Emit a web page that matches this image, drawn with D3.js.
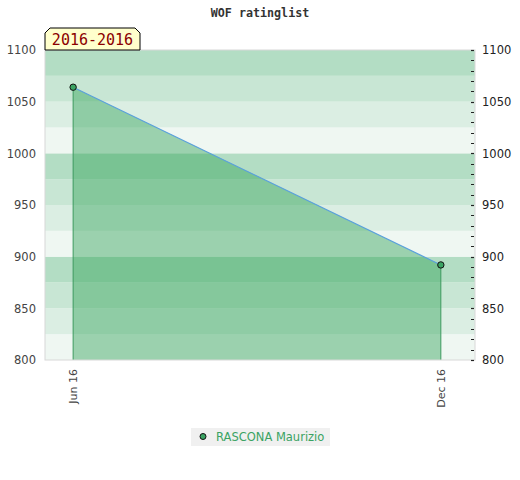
<!DOCTYPE html>
<html>
<head>
<meta charset="utf-8">
<script src="https://cdn.jsdelivr.net/npm/d3@7"></script>
<style>
  body { margin: 0; background: #fff; }
  svg { display: block; }
</style>
</head>
<body>
<svg id="chart" width="520" height="480"></svg>
<script>
// data
var dates = ["2016-06-01", "2016-12-01"];
var ratings = [1064, 892];
var tickLabels = ["Jun 16", "Dec 16"];
var playerName = "RASCONA Maurizio";
var periodLabel = "2016-2016";
var chartTitle = "WOF ratinglist";
var bandColors = ["#b3ddc4", "#c8e6d4", "#dbeee3", "#eff7f2"];

var width = 520;
var height = 480;
var margin = { top: 50, right: 45, bottom: 120, left: 45 };
var plotW = width - margin.left - margin.right;
var plotH = height - margin.top - margin.bottom;

var parse = d3.timeParse("%Y-%m-%d");
var points = dates.map(function (d, i) {
    return { date: parse(d), value: ratings[i], label: tickLabels[i] };
});

var svg = d3.select("#chart");

var x = d3.scaleTime()
    .domain([parse("2016-05-18"), parse("2016-12-18")])
    .range([0, plotW]);

var y = d3.scaleLinear()
    .domain([800, 1100])
    .range([plotH, 0]);

var g = svg.append("g")
    .attr("transform", "translate(" + margin.left + "," + margin.top + ")");

// background bands, 4 per 100 points
var bands = d3.range(800, 1100, 25);
g.selectAll(".band")
    .data(bands)
    .enter()
    .append("rect")
    .attr("class", "band")
    .attr("x", 0)
    .attr("width", plotW)
    .attr("y", function (d) { return y(d + 25); })
    .attr("height", function (d) { return y(d) - y(d + 25); })
    .attr("fill", function (d) { return bandColors[3 - ((d - 800) / 25) % 4]; });

// area under the line
var area = d3.area()
    .x(function (d) { return x(d.date); })
    .y0(plotH)
    .y1(function (d) { return y(d.value); });

g.append("path")
    .datum(points)
    .attr("d", area)
    .attr("fill", "rgb(44,160,84)")
    .attr("fill-opacity", 0.43);

// drop lines
g.selectAll(".drop")
    .data(points)
    .enter()
    .append("line")
    .attr("class", "drop")
    .attr("x1", function (d) { return x(d.date); })
    .attr("x2", function (d) { return x(d.date); })
    .attr("y1", function (d) { return y(d.value); })
    .attr("y2", plotH)
    .attr("stroke", "#3d9a5e")
    .attr("stroke-width", 1);

var line = d3.line()
    .x(function (d) { return x(d.date); })
    .y(function (d) { return y(d.value); });

g.append("path")
    .datum(points)
    .attr("d", line)
    .attr("fill", "none")
    .attr("stroke", "#5aa0dc")
    .attr("stroke-width", 1.2);

// plot border
g.append("rect")
    .attr("x", 0)
    .attr("y", 0)
    .attr("width", plotW)
    .attr("height", plotH)
    .attr("fill", "none")
    .attr("stroke", "#d8d8d8")
    .attr("stroke-width", 1);

// markers
g.selectAll(".dot")
    .data(points)
    .enter()
    .append("circle")
    .attr("class", "dot")
    .attr("cx", function (d) { return x(d.date); })
    .attr("cy", function (d) { return y(d.value); })
    .attr("r", 3.2)
    .attr("fill", "#3aa363")
    .attr("stroke", "#111")
    .attr("stroke-width", 1);

// left axis labels
var majorTicks = d3.range(800, 1101, 50);
var leftAxis = d3.axisLeft(y).tickValues(majorTicks).tickFormat(d3.format("d"))
    .tickSize(0).tickPadding(9);
g.append("g")
    .call(leftAxis)
    .call(function (a) { a.select(".domain").remove(); })
    .selectAll("text")
    .attr("font-family", "DejaVu Sans, sans-serif")
    .attr("font-size", 11.5)
    .attr("fill", "#444");

// right axis: minor ticks inside, labels outside
var minorTicks = d3.range(800, 1101, 10);
g.selectAll(".minor")
    .data(minorTicks)
    .enter()
    .append("line")
    .attr("class", "minor")
    .attr("x1", plotW - 4)
    .attr("x2", plotW - 1)
    .attr("y1", function (d) { return Math.round(y(d)) + 0.5; })
    .attr("y2", function (d) { return Math.round(y(d)) + 0.5; })
    .attr("stroke", "#222")
    .attr("stroke-width", function (d) { return d % 50 === 0 ? 1.2 : 1; });

var rightAxis = d3.axisRight(y).tickValues(majorTicks).tickFormat(d3.format("d"))
    .tickSize(0).tickPadding(7);
g.append("g")
    .attr("transform", "translate(" + plotW + ",0)")
    .call(rightAxis)
    .call(function (a) { a.select(".domain").remove(); })
    .selectAll("text")
    .attr("font-family", "DejaVu Sans, sans-serif")
    .attr("font-size", 11.5)
    .attr("fill", "#222");

// x axis labels, rotated
g.selectAll(".xlabel")
    .data(points)
    .enter()
    .append("text")
    .attr("class", "xlabel")
    .attr("transform", function (d) {
        return "translate(" + (x(d.date) + 4) + "," + (plotH + 9) + ") rotate(-90)";
    })
    .attr("text-anchor", "end")
    .attr("font-family", "DejaVu Sans, sans-serif")
    .attr("font-size", 11)
    .attr("fill", "#444")
    .text(function (d) { return d.label; });

// title
svg.append("text")
    .attr("x", width / 2)
    .attr("y", 17)
    .attr("text-anchor", "middle")
    .attr("font-family", "DejaVu Sans Mono, monospace")
    .attr("font-weight", "bold")
    .attr("font-size", 11.7)
    .attr("fill", "#333")
    .text(chartTitle);

// period tag with chamfered top corners
var tagX = margin.left, tagY = 28, tagW = 95, tagH = 22, cut = 5;
svg.append("path")
    .attr("d", "M" + tagX + "," + (tagY + tagH) +
        " L" + tagX + "," + (tagY + cut) +
        " L" + (tagX + cut) + "," + tagY +
        " L" + (tagX + tagW - cut) + "," + tagY +
        " L" + (tagX + tagW) + "," + (tagY + cut) +
        " L" + (tagX + tagW) + "," + (tagY + tagH) + " Z")
    .attr("fill", "#ffffcc")
    .attr("stroke", "#000")
    .attr("stroke-width", 1);

svg.append("text")
    .attr("x", tagX + tagW / 2)
    .attr("y", tagY + 17)
    .attr("text-anchor", "middle")
    .attr("font-family", "DejaVu Sans Mono, monospace")
    .attr("font-size", 15)
    .attr("fill", "#8b0000")
    .text(periodLabel);

// legend
var legend = svg.append("g").attr("transform", "translate(191,428)");
legend.append("rect")
    .attr("width", 139)
    .attr("height", 18)
    .attr("fill", "#f0f0f0");
legend.append("circle")
    .attr("cx", 12)
    .attr("cy", 8.5)
    .attr("r", 3)
    .attr("fill", "#3aa363")
    .attr("stroke", "#111")
    .attr("stroke-width", 1);
legend.append("text")
    .attr("x", 25)
    .attr("y", 13)
    .attr("font-family", "DejaVu Sans, sans-serif")
    .attr("font-size", 11.5)
    .attr("fill", "#3aa363")
    .text(playerName);
</script>
</body>
</html>
